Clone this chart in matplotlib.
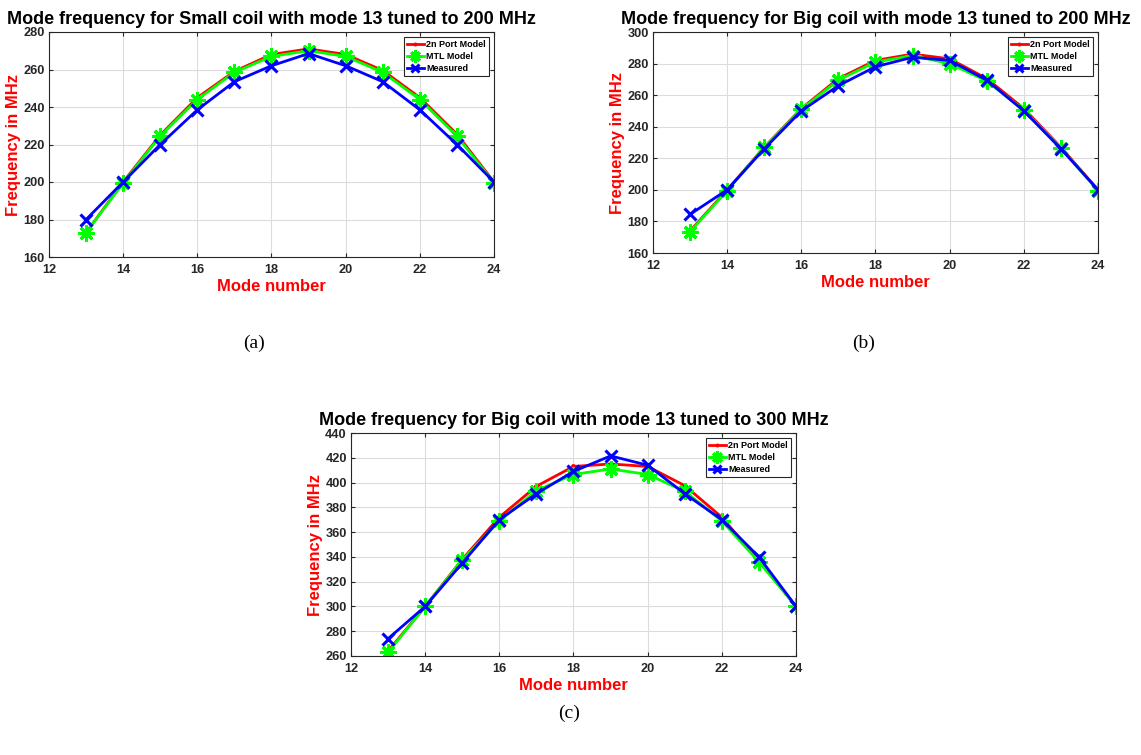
import matplotlib
matplotlib.use("Agg")
import matplotlib.pyplot as plt

plt.rcParams['font.family'] = ['Liberation Sans', 'DejaVu Sans']

modes = [13, 14, 15, 16, 17, 18, 19, 20, 21, 22, 23, 24]

# (a) Small coil, 200 MHz
a_port = [173, 200, 225, 245, 259, 268, 271, 268, 259.5, 245, 225.5, 200]
a_mtl = [173, 199.5, 224.5, 244, 258.5, 267, 270, 267, 258.5, 244, 224.5, 199.5]
a_meas = [180, 200, 220, 238.5, 253.5, 262, 268.5, 262, 253.5, 238.5, 220, 200]

# (b) Big coil, 200 MHz
b_port = [174, 200, 227, 251.5, 270.5, 282, 286, 283, 270.5, 251.5, 227, 200]
b_mtl = [173.5, 199.5, 227, 251, 269.5, 281, 285, 280, 269, 250.5, 226.5, 199.5]
b_meas = [184.5, 200, 226, 250, 266, 278, 284, 282, 269.5, 250, 226, 200]

# (c) Big coil, 300 MHz
c_port = [264, 300, 338, 372, 397, 413, 415, 413, 397.5, 372, 337, 300]
c_mtl = [263, 300, 337.5, 369, 393.5, 406.5, 411, 406.5, 393, 369, 336, 300]
c_meas = [274, 300, 335, 370, 391, 409, 421.5, 414, 391, 370, 340, 300]

titles = ["Mode frequency for Small coil with mode 13 tuned to 200 MHz",
          "Mode frequency for Big coil with mode 13 tuned to 200 MHz",
          "Mode frequency for Big coil with mode 13 tuned to 300 MHz"]
ylims = [(160, 280), (160, 300), (260, 440)]
yticks = [list(range(160, 281, 20)), list(range(160, 301, 20)), list(range(260, 441, 20))]
xticks = [12, 14, 16, 18, 20, 22, 24]
series_names = ["2n Port Model", "MTL Model", "Measured"]
panel_labels = ["(a)", "(b)", "(c)"]

W, H = 1141, 755
fig = plt.figure(figsize=(W / 100, H / 100), dpi=100)

# axes boxes in pixels: left, top, right, bottom
boxes = [(49, 32, 494, 257), (653, 32, 1098, 253), (351, 433, 796, 656)]
label_pos = [(254, 343), (864, 343), (569, 713)]
data = [(a_port, a_mtl, a_meas), (b_port, b_mtl, b_meas), (c_port, c_mtl, c_meas)]

for i, (l, t, r, b) in enumerate(boxes):
    ax = fig.add_axes([l / W, 1 - b / H, (r - l) / W, (b - t) / H])
    port, mtl, meas = data[i]
    ax.plot(modes, port, color='#ff0000', lw=2, marker='.', ms=5, label=series_names[0])
    ax.plot(modes, mtl, color='#00ff00', lw=2, marker=(8, 2, 0), ms=11.5, mew=2.2,
            label=series_names[1])
    ax.plot(modes, meas, color='#0000ff', lw=2, marker='x', ms=8, mew=2.2, label=series_names[2])
    ax.set_xlim(12, 24)
    ax.set_ylim(*ylims[i])
    ax.set_xticks(xticks)
    ax.set_yticks(yticks[i])
    ax.grid(True, color='#dcdcdc', lw=0.8)
    ax.set_axisbelow(True)
    for s in ax.spines.values():
        s.set_color('#262626')
        s.set_linewidth(0.8)
    ax.tick_params(direction='in', length=3, colors='#262626', labelsize=9.2,
                   top=True, right=True)
    ax.tick_params(axis='x', pad=5)
    ax.tick_params(axis='y', pad=3)
    for lab in ax.get_xticklabels() + ax.get_yticklabels():
        lab.set_fontweight('bold')
    ax.set_title(titles[i], fontsize=13, fontweight='bold', color='black', pad=6)
    ax.set_xlabel("Mode number", fontsize=12, fontweight='bold', color='#ff0000', labelpad=2)
    ax.set_ylabel("Frequency in MHz", fontsize=12, fontweight='bold', color='#ff0000', labelpad=1.5)
    leg = ax.legend(loc='upper right', prop={'size': 6.5, 'weight': 'bold'}, fancybox=False,
                    framealpha=1, edgecolor='#262626', handlelength=1.9, handletextpad=0.25,
                    borderpad=0.3, labelspacing=0.35, borderaxespad=0.6, markerscale=0.75)
    leg.get_frame().set_linewidth(0.8)
    fig.text(label_pos[i][0] / W, 1 - label_pos[i][1] / H, panel_labels[i],
             fontsize=14, family=['Liberation Serif', 'DejaVu Serif'],
             ha='center', va='center')

fig.savefig("out.png", dpi=100)
